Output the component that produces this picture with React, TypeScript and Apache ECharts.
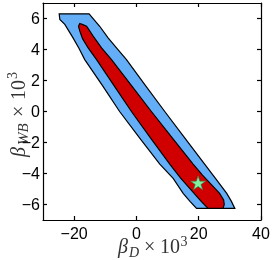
import React, { useEffect, useRef } from "react";
import * as echarts from "echarts";

const xTicks = [-20, 0, 20, 40];
const yTicks = [-6, -4, -2, 0, 2, 4, 6];

// 2-sigma (outer, blue) contour vertices [beta_D, beta_WB]
const outerContour: [number, number][] = [
  [-24.8, 6.3], [-15.2, 6.3], [-13.5, 5.9], [-11.8, 5.5], [-9.1, 4.75],
  [-6.2, 4.05], [-3.2, 3.35], [2.8, 1.7], [9.1, 0], [15.5, -1.7],
  [21.9, -3.39], [25.5, -4.35], [29.0, -5.28], [30.5, -5.8], [31.6, -6.25],
  [19.3, -6.25], [17.2, -5.8], [15.0, -5.28], [11.8, -4.31], [7.5, -3.39],
  [1.0, -1.7], [-5.4, 0], [-11.0, 1.7], [-16.6, 3.35], [-18.5, 4.1],
  [-20.5, 4.8], [-23.0, 5.62], [-24.6, 5.94],
];

// 1-sigma (inner, red) contour vertices
const innerContour: [number, number][] = [
  [-18.2, 5.68], [-17.4, 5.62], [-16.0, 5.5], [-13.9, 4.86], [-11.2, 4.1],
  [-8.0, 3.35], [-1.7, 1.7], [4.8, 0], [11.5, -1.7], [18.2, -3.39],
  [21.2, -4.1], [24.0, -4.7], [26.7, -5.28], [28.0, -5.7], [28.2, -6.0],
  [27.8, -6.25], [23.0, -6.25], [20.8, -5.8], [18.6, -5.3], [14.2, -4.3],
  [10.7, -3.39], [4.5, -1.7], [-1.6, 0], [-7.3, 1.7], [-12.8, 3.35],
  [-15.5, 4.1], [-17.3, 4.7], [-18.2, 5.2], [-18.6, 5.5],
];

const bestFit: [number, number][] = [[19.8, -4.6]];

const STAR =
  "path://M50 0 L61.23 34.55 L97.55 34.55 L68.17 55.9 L79.39 90.45 L50 69.1 L20.61 90.45 L31.83 55.9 L2.45 34.55 L38.77 34.55 Z";

const fmt = (v: number) => (v < 0 ? "\u2212" + Math.abs(v) : String(v));

export default function App() {
  const ref = useRef<HTMLDivElement>(null);
  useEffect(() => {
    const chart = echarts.init(ref.current!, null, { renderer: "svg" });
    const line = { color: "#000", width: 1.2 };
    const poly = (pts: [number, number][], color: string, z: number) => ({
      type: "custom",
      coordinateSystem: "cartesian2d",
      xAxisIndex: 0,
      yAxisIndex: 0,
      data: [[pts[0][0], pts[0][1]]],
      silent: true,
      z,
      clip: true,
      renderItem: (_p: any, api: any) => ({
        type: "polygon",
        shape: { points: pts.map((p) => api.coord(p)) },
        style: { fill: color, stroke: "#000", lineWidth: 1.2 },
      }),
    });
    const serif = "'Liberation Serif', 'DejaVu Serif', serif";
    const mk = (text: string, x: number, y: number, size: number, italic: boolean) => ({
      type: "text",
      x,
      y,
      style: {
        text,
        fontSize: size,
        fontFamily: serif,
        fontStyle: italic ? "italic" : "normal",
        fill: "#333",
        align: "left",
        verticalAlign: "middle",
      },
    });
    const sans = "'Liberation Sans', Arial, sans-serif";
    chart.setOption({
      animation: false,
      grid: { left: 43, right: 12, top: 3, bottom: 40 },
      xAxis: [
        {
          type: "value", min: -30, max: 40, interval: 10, position: "bottom",
          axisLine: { onZero: false, lineStyle: line },
          axisTick: { inside: true, length: 4, customValues: xTicks, lineStyle: line },
          axisLabel: {
            customValues: xTicks, formatter: fmt, fontSize: 16, color: "#000",
            fontFamily: sans, margin: 5,
          },
          splitLine: { show: false },
        },
        {
          type: "value", min: -30, max: 40, interval: 10, position: "top",
          axisLine: { onZero: false, lineStyle: line },
          axisTick: { inside: true, length: 4, customValues: xTicks, lineStyle: line },
          axisLabel: { show: false },
          splitLine: { show: false },
        },
      ],
      yAxis: [
        {
          type: "value", min: -7, max: 7, interval: 1, position: "left",
          axisLine: { onZero: false, lineStyle: line },
          axisTick: { inside: true, length: 4, customValues: yTicks, lineStyle: line },
          axisLabel: {
            customValues: yTicks, formatter: fmt, fontSize: 16, color: "#000",
            fontFamily: sans, margin: 3,
          },
          splitLine: { show: false },
        },
        {
          type: "value", min: -7, max: 7, interval: 1, position: "right",
          axisLine: { onZero: false, lineStyle: line },
          axisTick: { inside: true, length: 4, customValues: yTicks, lineStyle: line },
          axisLabel: { show: false },
          splitLine: { show: false },
        },
      ],
      series: [
        poly(outerContour, "#63AEF7", 1),
        poly(innerContour, "#D10000", 2),
        {
          type: "scatter",
          xAxisIndex: 0,
          yAxisIndex: 0,
          data: bestFit,
          symbol: STAR,
          symbolSize: [15, 14],
          z: 5,
          itemStyle: { color: "#7DF2A0", borderColor: "#2f7a4a", borderWidth: 0.6, opacity: 1 },
        },
      ],
      graphic: [
        {
          type: "group",
          children: [
            mk("\u03b2", 118, 246, 20, true),
            mk("D", 129, 252, 14, true),
            mk("\u00d7", 144, 246, 20, false),
            mk("10", 160, 246, 20, false),
            mk("3", 180.5, 241, 14, false),
          ],
        },
        {
          type: "group",
          x: 0,
          y: 157,
          rotation: Math.PI / 2,
          children: [
            mk("\u03b2", 0, 18, 20, true),
            mk("WB", 12, 23, 15, true),
            mk("\u00d7", 40, 18, 20, false),
            mk("10", 57, 18, 20, false),
            mk("3", 78, 12, 14, false),
          ],
        },
      ],
    });
    return () => chart.dispose();
  }, []);
  return (
    <div
      ref={ref}
      style={{ position: "fixed", left: 0, top: 0, width: 273, height: 260 }}
    />
  );
}
